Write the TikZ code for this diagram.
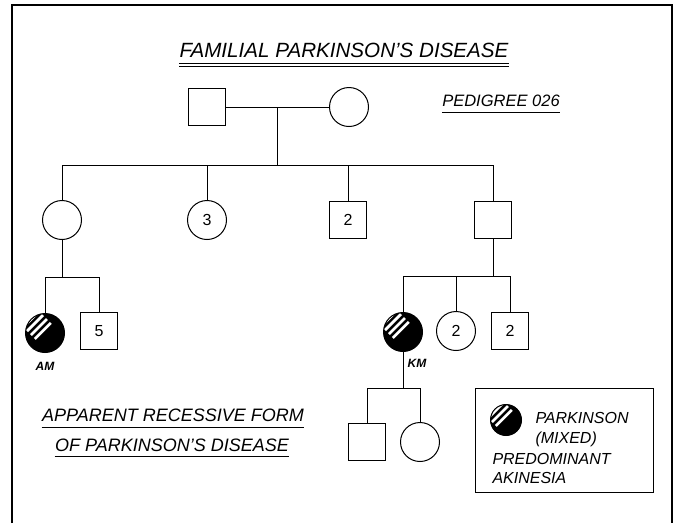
\documentclass[tikz,border=0pt]{standalone}
\usepackage{fontspec}
\setmainfont{Liberation Sans}
\usetikzlibrary{calc}
\tikzset{>=stealth}
\tikzset{
  male/.style={draw, line width=1pt, minimum size=37pt, inner sep=0pt, font=\fontsize{16}{16}\selectfont},
  female/.style={draw, circle, line width=1pt, minimum size=39pt, inner sep=0pt, font=\fontsize{16}{16}\selectfont},
  affected/.style={female, fill=black, path picture={
      \foreach \d in {3,8.5,14,19.5}
        \draw[white, line width=2.8pt] ($(path picture bounding box.center)+(-0.707*\d,-0.707*\d)+(-8,8)$) -- ++(16,-16);
  }},
  lettering/.style={inner sep=0pt, font=\itshape\fontsize{#1}{#1}\selectfont},
  tag/.style={inner sep=0pt, font=\bfseries\itshape\fontsize{12}{12}\selectfont},
}

\begin{document}
\begin{tikzpicture}[x=1pt, y=-1pt, line width=1pt]
        \useasboundingbox (0,0) rectangle (678,523);
        \draw[line width=1.8pt] (12,523) -- (12,5) -- (672,5) -- (672,523);

        \node[lettering=20.6] (title) at (344,50) {FAMILIAL PARKINSON'S DISEASE};
        \draw ([yshift=-6pt]title.south west) -- ([yshift=-6pt]title.south east);
        \draw ([yshift=-8.5pt]title.south west) -- ([yshift=-8.5pt]title.south east);
        \node[lettering=16.5] (pedno) at (501,101) {PEDIGREE 026};
        \draw ([yshift=-5pt]pedno.south west) -- ([yshift=-5pt]pedno.south east);

        \node[male] (gf) at (207,107) {};
        \node[female] (gm) at (349,107) {};
        \coordinate (gc) at (277,107);
        \coordinate (gs) at (277,165);
        \draw (gf) -- (gm);
        \draw (gc) -- (gs);

        \node[female] (d1) at (62,220) {};
        \node[female] (d2) at (207,220) {3};
        \node[male] (s3) at (348,220) {2};
        \node[male] (s4) at (493,220) {};
        \draw (d1.north) |- (s4.north |- gs) -- (s4.north);
        \draw (d2.north) -- (d2.north |- gs);
        \draw (s3.north) -- (s3.north |- gs);

        \node[affected] (am) at (45,333) {};
        \node[male] (s5) at (99,331) {5};
        \coordinate (j1) at (62,277);
        \draw (d1.south) -- (j1);
        \draw (am.north) |- (s5.north |- j1) -- (s5.north);
        \node[tag] (amtag) at (45,366) {AM};

        \node[affected] (km) at (403,332) {};
        \node[female] (d6) at (456,331) {2};
        \node[male] (s7) at (510,331) {2};
        \coordinate (j2) at (493,276);
        \draw (s4.south) -- (j2);
        \draw (km.north) |- (s7.north |- j2) -- (s7.north);
        \draw (d6.north) -- (d6.north |- j2);
        \node[tag] (kmtag) at (417,363) {KM};

        \node[male] (s8) at (367,442) {};
        \node[female] (d9) at (420,442) {};
        \coordinate (j3) at (403,388);
        \draw (km.south) -- (j3);
        \draw (s8.north) |- (d9.north |- j3) -- (d9.north);

        \node[lettering=18] (form1) at (173,415) {APPARENT RECESSIVE FORM};
        \draw ([yshift=-6pt]form1.south west) -- ([yshift=-6pt]form1.south east);
        \node[lettering=18] (form2) at (172,445) {OF PARKINSON'S DISEASE};
        \draw ([yshift=-5pt]form2.south west) -- ([yshift=-5pt]form2.south east);

        \node[draw, minimum width=178pt, minimum height=104pt] (legend) at (564,440) {};
        \node[affected, minimum size=31pt] (lgsym) at (506,420) {};
        \node[lettering=16, anchor=base west] (lg1) at (535,423) {PARKINSON};
        \node[lettering=16, anchor=base west] (lg2) at (535,443) {(MIXED)};
        \node[lettering=16, anchor=base west] (lg3) at (492,464) {PREDOMINANT};
        \node[lettering=16, anchor=base west] (lg4) at (492,483) {AKINESIA};
\end{tikzpicture}
\end{document}
